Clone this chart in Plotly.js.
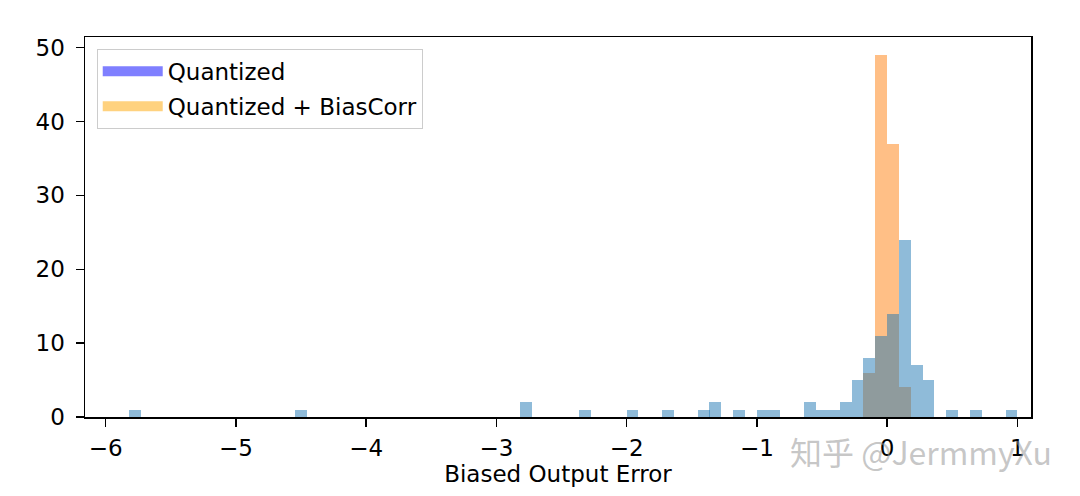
<!DOCTYPE html>
<html>
<head>
<meta charset="utf-8">
<script src="https://cdn.plot.ly/plotly-3.0.1.min.js"></script>
<style>
  html, body { margin: 0; padding: 0; background: #ffffff; }
  #chart { width: 1080px; height: 496px; }
</style>
</head>
<body>
<div id="chart"></div>
<script>
// ---- data (bin centres and counts) ----
const binWidth = 0.0909;

const quantizedX = [-5.774, -4.501, -2.773, -2.319, -1.955, -1.682, -1.409, -1.319,
                    -1.137, -0.955, -0.864, -0.591, -0.500, -0.409, -0.318, -0.227,
                    -0.137, -0.046, 0.045, 0.136, 0.227, 0.318, 0.500, 0.682, 0.955];
const quantizedCounts = [1, 1, 2, 1, 1, 1, 1, 2,
                         1, 1, 1, 2, 1, 1, 2, 5,
                         8, 11, 14, 24, 7, 5, 1, 1, 1];

const biasCorrX = [-0.137, -0.046, 0.045, 0.136];
const biasCorrCounts = [6, 49, 37, 4];

const seriesNames = ["Quantized", "Quantized + BiasCorr"];
const xTickVals = [-6, -5, -4, -3, -2, -1, 0, 1];
const yTickVals = [0, 10, 20, 30, 40, 50];
const xLabel = "Biased Output Error";
const watermark = "知乎 @JermmyXu";

const FONT = "DejaVu Sans, Liberation Sans, sans-serif";
const FS = 23;

const traces = [
  // orange histogram drawn first, blue on top (gives grey overlap)
  {
    type: "bar", x: biasCorrX, y: biasCorrCounts, width: binWidth,
    marker: { color: "rgba(255,127,14,0.5)", line: { width: 0 } },
    showlegend: false, hoverinfo: "x+y", name: seriesNames[1]
  },
  {
    type: "bar", x: quantizedX, y: quantizedCounts, width: binWidth,
    marker: { color: "rgba(31,119,180,0.5)", line: { width: 0 } },
    showlegend: false, hoverinfo: "x+y", name: seriesNames[0]
  },
  // legend entries (colours used by the reference legend patches)
  {
    type: "scatter", mode: "lines", x: [null], y: [null], name: seriesNames[0],
    line: { color: "rgba(0,0,255,0.5)", width: 15 }, legendgroup: "a", showlegend: true
  },
  {
    type: "scatter", mode: "lines", x: [null], y: [null], name: seriesNames[1],
    line: { color: "rgba(255,165,0,0.5)", width: 15 }, legendgroup: "b", showlegend: true
  }
];

const layout = {
  width: 1080, height: 496,
  margin: { l: 85, r: 49, t: 36.5, b: 78.5, pad: 0 },
  paper_bgcolor: "#ffffff", plot_bgcolor: "#ffffff",
  font: { family: FONT, size: FS, color: "#000000" },
  barmode: "overlay", bargap: 0,
  xaxis: {
    range: [-6.159, 1.105],
    tickmode: "array", tickvals: xTickVals,
    ticks: "outside", ticklen: 8, tickwidth: 1.5, tickcolor: "#000",
    showline: true, linecolor: "#000", linewidth: 1.5, mirror: true,
    showgrid: false, zeroline: false,
    ticklabelstandoff: 2,
    tickfont: { family: FONT, size: FS, color: "#000" },
    title: { text: xLabel, font: { family: FONT, size: FS, color: "#000" }, standoff: 6 }
  },
  yaxis: {
    range: [0, 51.45],
    tickmode: "array", tickvals: yTickVals,
    ticks: "outside", ticklen: 8, tickwidth: 1.5, tickcolor: "#000",
    showline: true, linecolor: "#000", linewidth: 1.5, mirror: true,
    showgrid: false, zeroline: false,
    ticklabelstandoff: 6,
    tickfont: { family: FONT, size: FS, color: "#000" }
  },
  legend: {
    x: 0.0124, y: 0.969, xanchor: "left", yanchor: "top",
    bgcolor: "rgba(255,255,255,0.8)", bordercolor: "#cccccc", borderwidth: 1,
    font: { family: FONT, size: FS, color: "#000" },
    tracegroupgap: 2, itemwidth: 60
  },
  annotations: [
    {
      text: watermark, xref: "paper", yref: "paper",
      x: (921 - 85) / 946, y: -(452 - 417.5) / 381,
      xanchor: "center", yanchor: "middle", showarrow: false,
      font: { family: "Noto Sans CJK SC, DejaVu Sans, sans-serif", size: 32, color: "rgba(150,150,150,0.55)" }
    }
  ]
};

Plotly.newPlot("chart", traces, layout, { displayModeBar: false, staticPlot: true });
</script>
</body>
</html>
